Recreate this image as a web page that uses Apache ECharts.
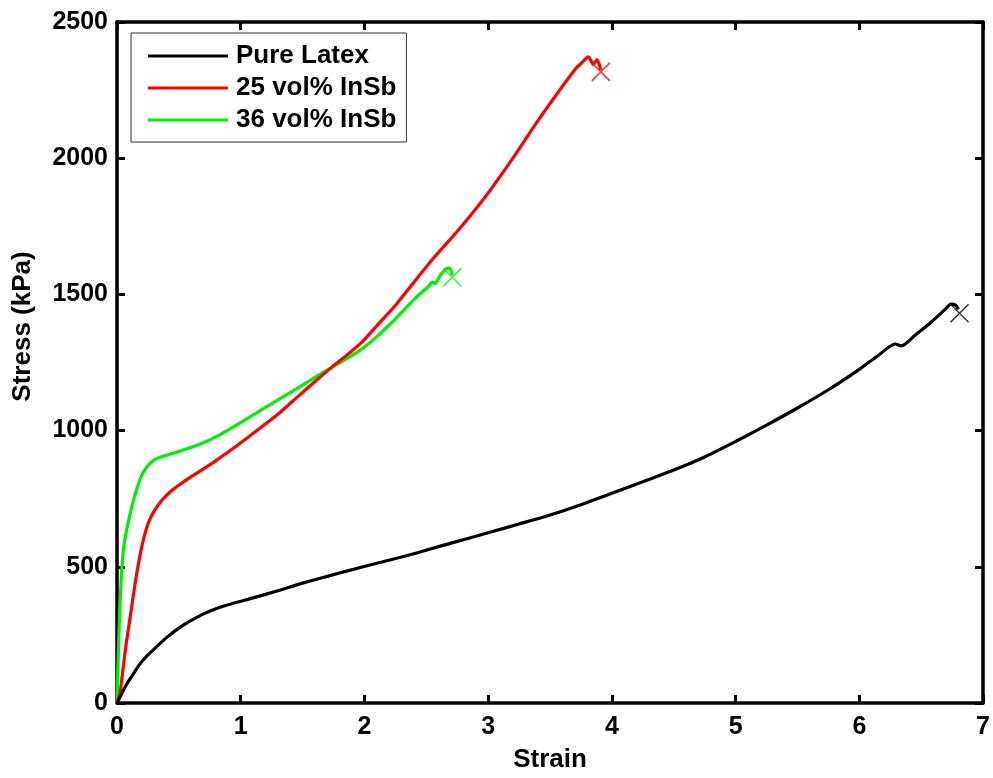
<!DOCTYPE html>
<html>
<head>
<meta charset="utf-8">
<script src="https://cdn.jsdelivr.net/npm/echarts@6/dist/echarts.min.js"></script>
<style>
  html, body { margin: 0; padding: 0; background: #fff; }
  #chart { width: 993px; height: 778px; }
</style>
</head>
<body>
<div id="chart"></div>
<script>
// Courbes contrainte / deformation
const seriesNames = ['Pure Latex', '25 vol% InSb', '36 vol% InSb'];
const seriesColors = ['#000000', '#ff0000', '#00ee00'];

const latexData = [
  [0, 0], [0.02, 18], [0.05, 45], [0.09, 78], [0.13, 105], [0.18, 140], [0.23, 167],
  [0.3, 198], [0.4, 240], [0.5, 275], [0.6, 303], [0.7, 327], [0.8, 346], [0.94, 366],
  [1.1, 386], [1.3, 412], [1.5, 440], [1.7, 465], [1.88, 487], [2.1, 513],
  [2.4, 548], [2.7, 587], [3.0, 625], [3.25, 657], [3.5, 690], [3.75, 728],
  [4.0, 770], [4.25, 812], [4.5, 855], [4.75, 903], [5.0, 960], [5.25, 1020],
  [5.5, 1083], [5.75, 1150], [6.0, 1225], [6.15, 1275], [6.29, 1318], [6.34, 1311],
  [6.45, 1350], [6.58, 1398], [6.7, 1448], [6.74, 1464], [6.78, 1460], [6.8, 1445]
];

const insb25Data = [
  [0, 0], [0.025, 40], [0.05, 130], [0.075, 220], [0.105, 311], [0.145, 435],
  [0.185, 540], [0.225, 620], [0.266, 675], [0.33, 725], [0.4, 762], [0.47, 790],
  [0.535, 811], [0.6, 831], [0.67, 851], [0.8, 890], [0.94, 935], [1.1, 990], [1.3, 1060],
  [1.45, 1120], [1.6, 1180], [1.74, 1234], [1.86, 1278], [1.98, 1325], [2.1, 1385],
  [2.26, 1465], [2.4, 1545], [2.55, 1629], [2.77, 1742], [2.98, 1860], [3.2, 2000],
  [3.39, 2130], [3.57, 2245], [3.71, 2330], [3.76, 2352], [3.81, 2372], [3.85, 2345],
  [3.88, 2362], [3.91, 2324]
];

const insb36Data = [
  [0, 0], [0.015, 250], [0.03, 420], [0.05, 555], [0.08, 640], [0.13, 739],
  [0.17, 800], [0.21, 845], [0.26, 877], [0.32, 897], [0.42, 912], [0.53, 928],
  [0.67, 950], [0.81, 980], [1.02, 1035], [1.2, 1085], [1.45, 1153], [1.6, 1195],
  [1.74, 1234], [1.86, 1265], [1.98, 1300], [2.1, 1345], [2.26, 1415], [2.42, 1490],
  [2.52, 1530], [2.55, 1545], [2.57, 1540], [2.62, 1575], [2.67, 1596], [2.69, 1597],
  [2.71, 1570]
];

// Points de rupture (croix)
const breakPoints = [[6.81, 1431], [3.91, 2317], [2.71, 1563]];

const xTicks = [0, 1, 2, 3, 4, 5, 6, 7];
const yTicks = [0, 500, 1000, 1500, 2000, 2500];

const chart = echarts.init(document.getElementById('chart'));

const font = 'Liberation Sans, Arial, sans-serif';
const axisCommon = {
  axisLine: { show: true, onZero: false, lineStyle: { color: '#000', width: 3.5 } },
  axisTick: { show: true, inside: true, length: 8, lineStyle: { color: '#000', width: 3 } },
  splitLine: { show: false }
};

const lineSeries = [latexData, insb25Data, insb36Data].map((d, i) => ({
  name: seriesNames[i],
  type: 'line',
  data: d,
  showSymbol: false,
  symbol: 'none',
  smooth: 0.25,
  lineStyle: { color: seriesColors[i], width: 3.2 },
  itemStyle: { color: seriesColors[i] },
  z: 5 - i
}));

const crossSeries = breakPoints.map((p, i) => ({
  name: 'break' + i,
  type: 'scatter',
  data: [p],
  symbol: 'path://M0,0L10,10M10,0L0,10',
  symbolSize: 18,
  itemStyle: { color: 'none', borderColor: seriesColors[i], borderWidth: 1.5 },
  z: 6
}));

const options = {
  animation: false,
  grid: { left: 117, right: 8, top: 22, bottom: 73, containLabel: false },
  legend: {
    data: seriesNames,
    orient: 'vertical',
    left: 131,
    top: 33,
    padding: [10, 10, 9, 17],
    icon: 'rect',
    itemWidth: 80,
    itemHeight: 3,
    itemGap: 6,
    borderColor: '#333',
    borderWidth: 1,
    backgroundColor: '#fff',
    textStyle: { fontFamily: font, fontWeight: 'bold', fontSize: 26, color: '#000', padding: [0, 0, 0, 3] }
  },
  xAxis: [
    Object.assign({
      type: 'value', min: 0, max: 7, interval: 1,
      name: 'Strain', nameLocation: 'middle', nameGap: 44,
      nameTextStyle: { fontFamily: font, fontWeight: 'bold', fontSize: 26, color: '#000' },
      axisLabel: {
        fontFamily: font, fontWeight: 'bold', fontSize: 25, color: '#000', margin: 12,
        formatter: v => (xTicks.indexOf(v) >= 0 ? String(v) : '')
      }
    }, axisCommon),
    Object.assign({
      type: 'value', min: 0, max: 7, interval: 1, position: 'top',
      axisLabel: { show: false }
    }, axisCommon)
  ],
  yAxis: [
    Object.assign({
      type: 'value', min: 0, max: 2500, interval: 500,
      name: 'Stress (kPa)', nameLocation: 'middle', nameGap: 81,
      nameTextStyle: { fontFamily: font, fontWeight: 'bold', fontSize: 26, color: '#000', padding: [0, 0, 0, 72] },
      axisLabel: {
        fontFamily: font, fontWeight: 'bold', fontSize: 25, color: '#000', margin: 9,
        formatter: v => (yTicks.indexOf(v) >= 0 ? String(v) : '')
      }
    }, axisCommon),
    Object.assign({
      type: 'value', min: 0, max: 2500, interval: 500, position: 'right',
      axisLabel: { show: false }
    }, axisCommon)
  ],
  series: lineSeries.concat(crossSeries)
};

chart.setOption(options);

window.addEventListener('resize', () => {
  chart.resize();
});
</script>
</body>
</html>
